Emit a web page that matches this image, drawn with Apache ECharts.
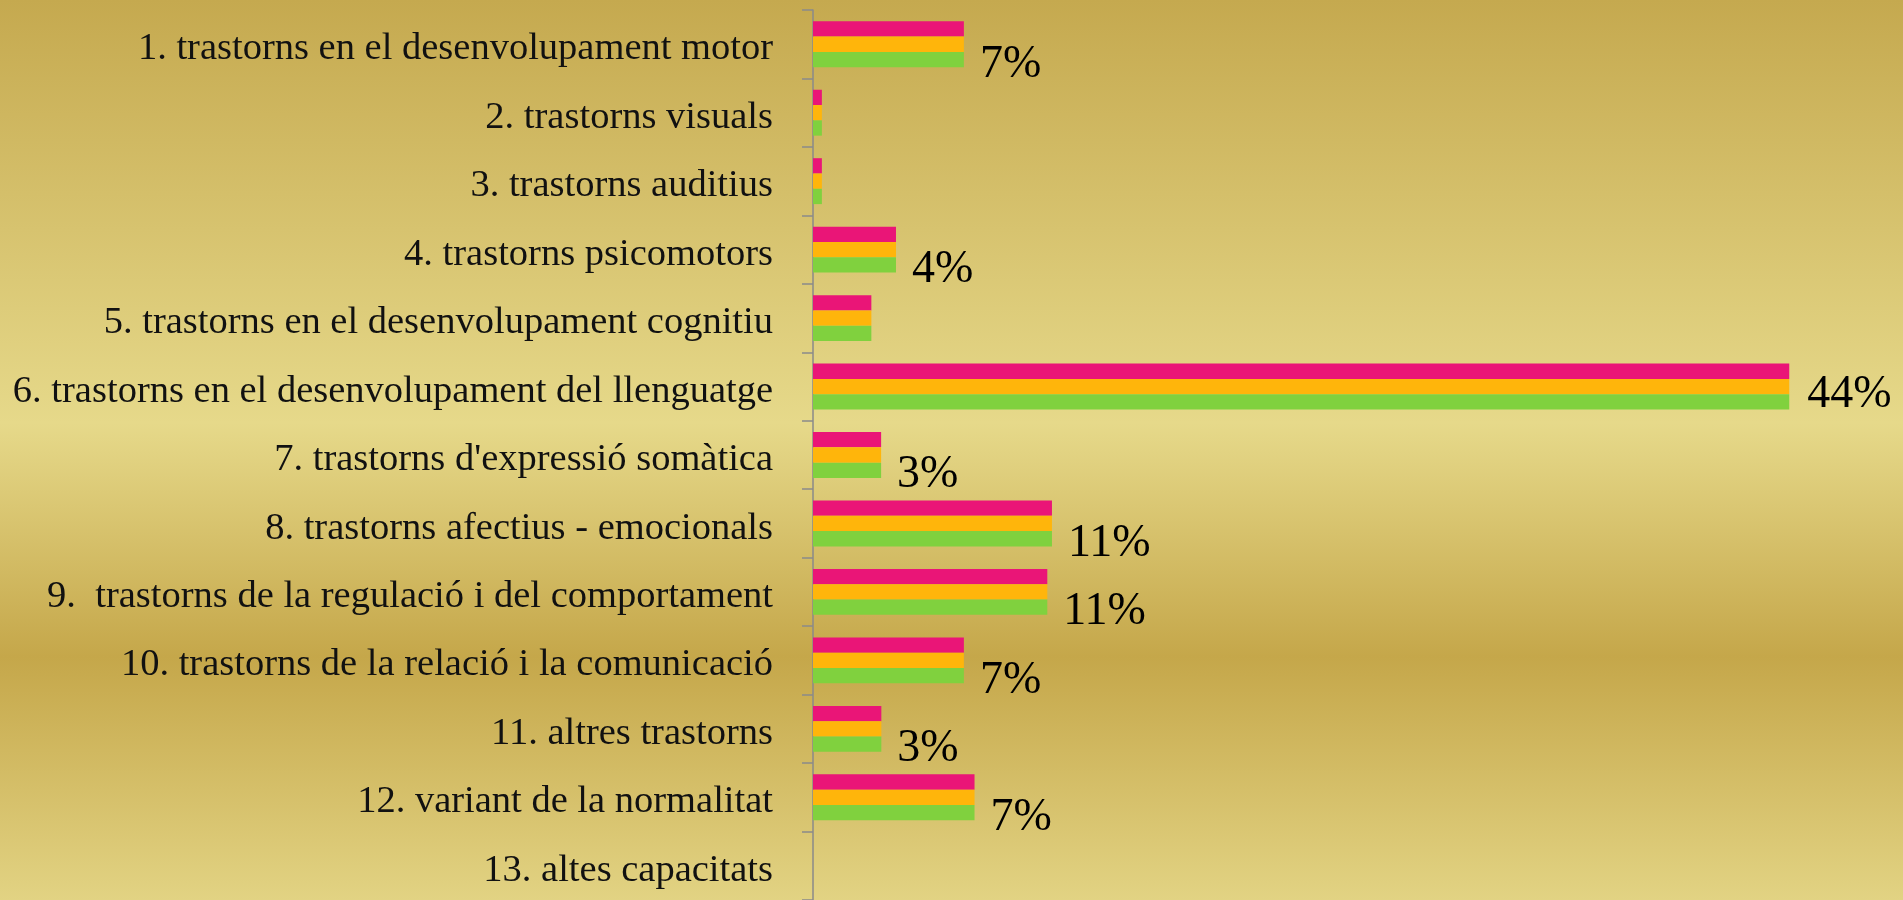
<!DOCTYPE html>
<html>
<head>
<meta charset="utf-8">
<script src="https://cdn.jsdelivr.net/npm/echarts@6/dist/echarts.min.js"></script>
<style>
html,body{margin:0;padding:0;width:1903px;height:900px;overflow:hidden;}
#c{width:1903px;height:900px;}
</style>
</head>
<body>
<div id="c"></div>
<script>
const categories = [
  "1. trastorns en el desenvolupament motor",
  "2. trastorns visuals",
  "3. trastorns auditius",
  "4. trastorns psicomotors",
  "5. trastorns en el desenvolupament cognitiu",
  "6. trastorns en el desenvolupament del llenguatge",
  "7. trastorns d'expressió somàtica",
  "8. trastorns afectius - emocionals",
  "9.  trastorns de la regulació i del comportament",
  "10. trastorns de la relació i la comunicació",
  "11. altres trastorns",
  "12. variant de la normalitat",
  "13. altes capacitats"
];
const seriesA = [6.8, 0.4, 0.4, 3.74, 2.63, 44, 3.07, 10.77, 10.56, 6.8, 3.08, 7.28, 0];
const seriesB = [6.8, 0.4, 0.4, 3.74, 2.63, 44, 3.07, 10.77, 10.56, 6.8, 3.08, 7.28, 0];
const seriesC = [6.8, 0.4, 0.4, 3.74, 2.63, 44, 3.07, 10.77, 10.56, 6.8, 3.08, 7.28, 0];
const valueLabels = ["7%", "", "", "4%", "", "44%", "3%", "11%", "11%", "7%", "3%", "7%", ""];

const chart = echarts.init(document.getElementById('c'));
const barW = 15.3;
const maxV = Math.max(...seriesC);
const greenData = seriesC.map(v => v === maxV
  ? {value: v, label: {offset: [2, -7]}}
  : v);
chart.setOption({
  backgroundColor: {
    type: 'linear', x: 0, y: 0, x2: 0, y2: 1,
    colorStops: [
      {offset: 0, color: '#C5A94F'},
      {offset: 0.47, color: '#E6D98A'},
      {offset: 0.73, color: '#C5A74A'},
      {offset: 1, color: '#E2D383'}
    ]
  },
  animation: false,
  grid: {left: 813, right: 25, top: 10, bottom: -2, containLabel: false},
  xAxis: {
    type: 'value', min: 0, max: 48, show: false
  },
  yAxis: {
    type: 'category', inverse: true, data: categories,
    axisLine: {show: true, lineStyle: {color: '#8a8a8a', width: 1.5}},
    axisTick: {show: true, length: 11, lineStyle: {color: '#8a8a8a', width: 1.5}},
    axisLabel: {
      margin: 40,
      formatter: v => '{a|' + v + '}',
      rich: {
        a: {color: '#111', fontFamily: 'Liberation Serif', fontSize: 38.5,
            lineHeight: 44, padding: [10, 0, 0, 0]}
      }
    },
    splitLine: {show: false}
  },
  series: [
    {type: 'bar', data: seriesA, barWidth: barW, barGap: '0%', itemStyle: {color: '#EA1577'}},
    {type: 'bar', data: seriesB, barWidth: barW, barGap: '0%', itemStyle: {color: '#FFB50B'}},
    {type: 'bar', data: greenData, barWidth: barW, barGap: '0%', itemStyle: {color: '#80D13E'},
      label: {
        show: true, position: 'right', distance: 16, offset: [0, 5],
        color: '#000', fontFamily: 'Liberation Serif', fontSize: 46,
        formatter: p => valueLabels[p.dataIndex]
      }
    }
  ]
});
</script>
</body>
</html>
